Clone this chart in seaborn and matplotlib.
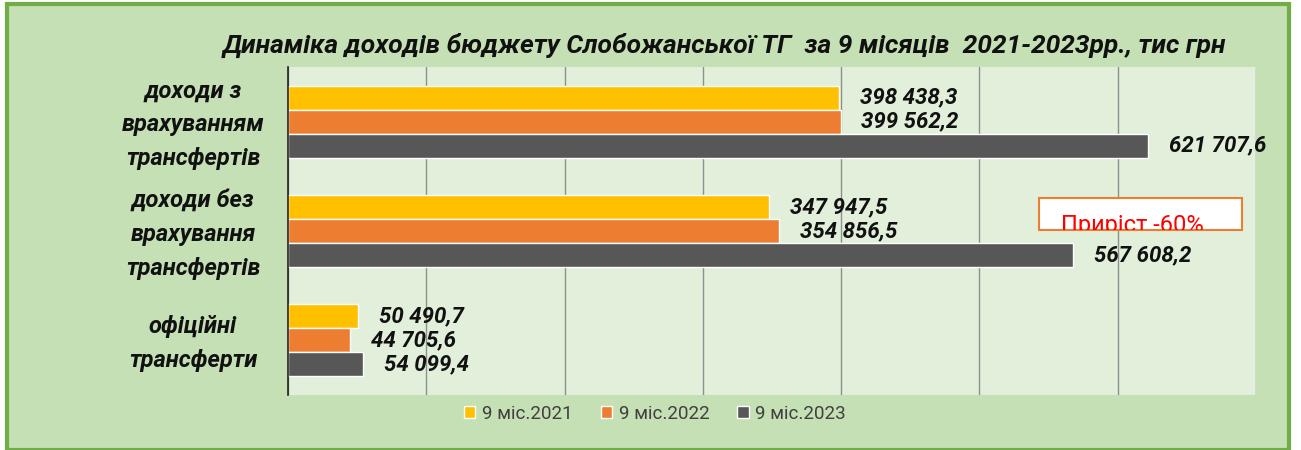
import matplotlib
matplotlib.use("Agg")
from matplotlib import pyplot as plt
from matplotlib.patches import Rectangle
from matplotlib.transforms import blended_transform_factory
import pandas as pd
import seaborn as sns

categories = ["доходи з\nврахуванням\nтрансфертів",
              "доходи без\nврахування\nтрансфертів",
              "офіційні\nтрансферти"]
periods = ["9 міс.2021", "9 міс.2022", "9 міс.2023"]
values_2021 = [398438.3, 347947.5, 50490.7]
values_2022 = [399562.2, 354856.5, 44705.6]
values_2023 = [621707.6, 567608.2, 54099.4]
colors = ["#FFC000", "#ED7D31", "#575757"]
title = "Динаміка доходів бюджету Слобожанської ТГ  за 9 місяців  2021-2023рр., тис грн"
note = "Приріст -60%"

rows = []
for period, vals in zip(periods, [values_2021, values_2022, values_2023]):
    for cat, v in zip(categories, vals):
        rows.append({"category": cat, "period": period, "value": v})
df = pd.DataFrame(rows)

sns.set_style("white")
plt.rcParams["font.family"] = ["Roboto", "DejaVu Sans"]

fig = plt.figure(figsize=(13.01, 4.5), dpi=100)
fig.patch.set_facecolor("white")

# outer green panel
W, H = 1301, 450
panel = Rectangle((7 / W, 0), (1289 - 7) / W, (H - 8) / H + 0.01,
                  transform=fig.transFigure, facecolor="#c5e0b4",
                  edgecolor="#70ad47", linewidth=3, zorder=-10)
fig.patches.append(panel)

ax = fig.add_axes([288 / W, (H - 395) / H, (1256 - 288) / W, (395 - 67) / H])
ax.set_facecolor("#e2efda")

sns.barplot(data=df, x="value", y="category", hue="period", orient="h",
            palette=colors, width=0.66, saturation=1, ax=ax, legend=True)

ax.set_xlim(0, 700000)
ax.set_xticks(range(0, 700001, 100000))
ax.set_xticklabels([])
ax.tick_params(axis="x", length=0)
ax.grid(axis="x", color="#8f8f8f", linewidth=1)
ax.set_axisbelow(True)
ax.set_xlabel("")
ax.set_ylabel("")

for s in ["top", "right", "bottom"]:
    ax.spines[s].set_visible(False)
ax.spines["left"].set_color("#222222")
ax.spines["left"].set_linewidth(1.2)

ax.set_yticks([-0.5, 0.5, 1.5, 2.5], minor=True)
ax.tick_params(axis="y", which="minor", length=6, width=1.2, color="#222222", direction="out")
ax.tick_params(axis="y", which="major", length=0, labelleft=False)

# category labels drawn as centred text blocks left of the axis
trans = blended_transform_factory(fig.transFigure, ax.transData)
for i, cat in enumerate(categories):
    ax.text(193 / W, i + 0.03, cat, transform=trans, ha="center", va="center",
            fontsize=17, fontweight="bold", fontstyle="italic", color="#111111",
            multialignment="center", linespacing=1.6)

def fmt(v):
    s = f"{v:,.1f}".replace(",", " ").replace(".", ",")
    return s

for cont, vals in zip(ax.containers, [values_2021, values_2022, values_2023]):
    ax.bar_label(cont, labels=[fmt(v) for v in vals], padding=15,
                 fontsize=16, fontweight="bold", fontstyle="italic", color="#111111")

handles, labels = ax.get_legend_handles_labels()
leg = ax.legend(handles, labels, loc="center", bbox_to_anchor=(655 / W, 36 / H),
                bbox_transform=fig.transFigure, ncol=3, frameon=False,
                handlelength=0.6, handleheight=0.6, handletextpad=0.35,
                columnspacing=1.5, fontsize=13.5)
for txt in leg.get_texts():
    txt.set_color("#404040")

fig.text(724 / W, 1 - 45 / H, title, ha="center", va="center",
         fontsize=19, fontweight="bold", fontstyle="italic", color="#111111")

# note box with clipped text
box = Rectangle((1039 / W, 1 - 230 / H), 203 / W, 32 / H, transform=fig.transFigure,
                facecolor="white", edgecolor="#ED7D31", linewidth=1.5, zorder=5)
fig.patches.append(box)
t = fig.text(1061 / W, 1 - 214 / H, note, ha="left", va="top", fontsize=17,
             color="#ff0000", zorder=6)
t.set_clip_path(box)

fig.savefig("out.png", dpi=100)
